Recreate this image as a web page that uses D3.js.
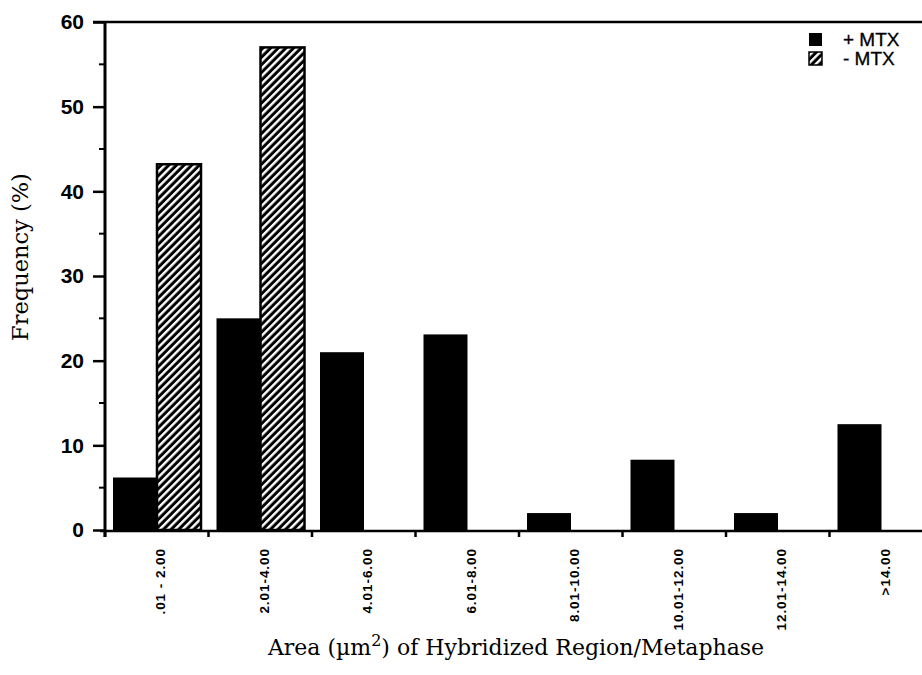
<!DOCTYPE html>
<html><head><meta charset="utf-8">
<script src="https://cdn.jsdelivr.net/npm/d3@7/dist/d3.min.js"></script>
<style>body{margin:0;background:#fff}svg{display:block}</style>
</head><body>
<svg id="c" width="922" height="675"></svg>
<script>
const categories = [".01 - 2.00","2.01-4.00","4.01-6.00","6.01-8.00","8.01-10.00","10.01-12.00","12.01-14.00",">14.00"];
const series = ["+ MTX","- MTX"];
const plusMTX = [6.2, 25, 21, 23.1, 2, 8.3, 2, 12.5];
const minusMTX = [43.2, 57, 0, 0, 0, 0, 0, 0];
const yTicks = [0,10,20,30,40,50,60];
const yMinor = [5,15,25,35,45,55];

const svg = d3.select("#c");
const x0 = 105, yBase = 530, yTop = 22, band = 103.5;
const x = d3.scaleBand().domain(categories).range([x0, x0 + band*categories.length]).padding(0);
const xs = d3.scaleBand().domain(series).range([8, 96]).padding(0);
const y = d3.scaleLinear().domain([0,60]).range([yBase, yTop]);

const defs = svg.append("defs");
const pat = defs.append("pattern").attr("id","hatch").attr("patternUnits","userSpaceOnUse")
  .attr("width",5.4).attr("height",10).attr("patternTransform","rotate(45)");
pat.append("rect").attr("width",5.4).attr("height",10).attr("fill","#000");
pat.append("rect").attr("x",0).attr("width",2.4).attr("height",10).attr("fill","#fff");

const data = categories.map((c,i)=>({c, v:[plusMTX[i], minusMTX[i]]}));
const g = svg.append("g");
data.forEach(d=>{
  series.forEach((s,j)=>{
    const v = d.v[j];
    if (v <= 0) return;
    g.append("rect")
      .attr("x", x(d.c) + xs(s)).attr("y", y(v))
      .attr("width", xs.bandwidth()).attr("height", y(0)-y(v))
      .attr("fill", j===0 ? "#000" : "url(#hatch)")
      .attr("stroke","#000").attr("stroke-width", j===0?0:2.5);
  });
});

// top line
svg.append("line").attr("x1",93).attr("x2",922).attr("y1",y(60)).attr("y2",y(60)).attr("stroke","#000").attr("stroke-width",2.5);

// x axis
svg.append("line").attr("x1",100).attr("x2",922).attr("y1",yBase+1).attr("y2",yBase+1).attr("stroke","#000").attr("stroke-width",2.5);
svg.append("g").selectAll("line").data(categories).join("line")
  .attr("x1",d=>x(d)).attr("x2",d=>x(d)).attr("y1",yBase).attr("y2",yBase+7)
  .attr("stroke","#000").attr("stroke-width",2.5);
svg.append("g").selectAll("text").data(categories).join("text")
  .attr("transform",d=>`translate(${x(d)+x.bandwidth()/2+4},548) rotate(-90)`)
  .attr("text-anchor","end").attr("dy","0.35em")
  .attr("font-family","Liberation Sans, Arial, sans-serif").attr("font-weight","bold")
  .attr("font-size",13.5).attr("letter-spacing",0.95)
  .text(d=>d);

// y axis
svg.append("line").attr("x1",x0).attr("x2",x0).attr("y1",yTop-1).attr("y2",yBase+7).attr("stroke","#000").attr("stroke-width",3);
const yAxisG = svg.append("g").attr("transform",`translate(${x0},0)`)
  .call(d3.axisLeft(y).tickValues(yTicks).tickSize(12).tickPadding(9).tickFormat(d3.format("d")));
yAxisG.select(".domain").remove();
yAxisG.selectAll(".tick line").attr("stroke-width",2.5);
yAxisG.selectAll(".tick text").attr("font-family","Liberation Sans, Arial, sans-serif").attr("font-weight","bold").attr("font-size",21).attr("fill","#000");
svg.append("g").selectAll("line").data(yMinor).join("line")
  .attr("x1",x0-6).attr("x2",x0).attr("y1",d=>y(d)).attr("y2",d=>y(d)).attr("stroke","#000").attr("stroke-width",2);

// y title
svg.append("text").attr("transform","translate(28,257) rotate(-90)").attr("text-anchor","middle")
  .attr("font-family","DejaVu Serif, serif").attr("font-size",22.5).attr("fill","#000")
  .text("Frequency (%)");

// x title
const xt = svg.append("text").attr("x",516).attr("y",655).attr("text-anchor","middle")
  .attr("font-family","DejaVu Serif, serif").attr("font-size",22).attr("fill","#000");
xt.append("tspan").text("Area (\u00b5m");
xt.append("tspan").attr("dy",-9).attr("font-size",16).text("2");
xt.append("tspan").attr("dy",9).text(") of Hybridized Region/Metaphase");

// legend
const lg = svg.append("g");
series.forEach((s,j)=>{
  lg.append("rect").attr("x",809).attr("y",33+j*19).attr("width",13).attr("height",13)
    .attr("fill", j===0?"#000":"url(#hatch)").attr("stroke","#000").attr("stroke-width",j===0?0:1.5);
  lg.append("text").attr("x",843).attr("y",46+j*19)
    .attr("font-family","Liberation Sans, Arial, sans-serif").attr("font-size",19).attr("fill","#000")
    .attr("stroke","#000").attr("stroke-width",0.3)
    .text(s);
});
</script>
</body></html>
